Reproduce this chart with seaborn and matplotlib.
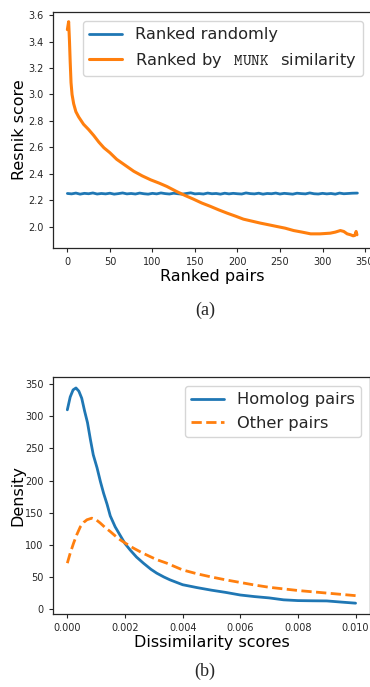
import matplotlib
matplotlib.use("Agg")
import matplotlib.pyplot as plt
import seaborn as sns

# ---- (a) Resnik score of ranked protein pairs ----
random_ranks = [0, 5, 10, 15, 20, 25, 30, 35, 40, 45, 50, 55, 60, 65, 70, 75, 80, 85,
                90, 95, 100, 105, 110, 115, 120, 125, 130, 135, 140, 145, 150, 155, 160,
                165, 170, 175, 180, 185, 190, 195, 200, 205, 210, 215, 220, 225, 230, 235,
                240, 245, 250, 255, 260, 265, 270, 275, 280, 285, 290, 295, 300, 305, 310,
                315, 320, 325, 330, 335, 341]
random_scores = [2.252, 2.249, 2.255, 2.247, 2.253, 2.250, 2.256, 2.248, 2.252, 2.249,
                 2.254, 2.247, 2.251, 2.256, 2.249, 2.252, 2.248, 2.255, 2.250, 2.247,
                 2.253, 2.249, 2.256, 2.251, 2.248, 2.254, 2.250, 2.247, 2.252, 2.257,
                 2.249, 2.251, 2.248, 2.255, 2.250, 2.252, 2.247, 2.254, 2.249, 2.253,
                 2.250, 2.248, 2.256, 2.251, 2.249, 2.254, 2.247, 2.252, 2.250, 2.255,
                 2.248, 2.253, 2.250, 2.247, 2.254, 2.251, 2.249, 2.256, 2.250, 2.248,
                 2.253, 2.249, 2.252, 2.247, 2.255, 2.250, 2.252, 2.254, 2.255]

munk_ranks = [0, 1.5, 2.5, 3.3, 4.3, 5.5, 7.4, 10, 13.3, 19, 25, 31, 37, 43, 50, 58, 68,
              78, 88, 98, 108, 117, 129, 139, 148, 158, 168, 178, 188, 198, 207, 217, 227,
              237, 246, 256, 266, 276, 286, 297, 309, 315, 321, 325, 329, 333, 336, 338,
              339.5, 340.5]
munk_scores = [3.49, 3.55, 3.40, 3.25, 3.09, 3.00, 2.93, 2.87, 2.83, 2.775, 2.735, 2.69,
               2.64, 2.597, 2.56, 2.51, 2.465, 2.42, 2.385, 2.355, 2.33, 2.305, 2.265,
               2.235, 2.21, 2.18, 2.155, 2.128, 2.103, 2.08, 2.058, 2.043, 2.028, 2.015,
               2.003, 1.99, 1.972, 1.96, 1.947, 1.947, 1.952, 1.96, 1.972, 1.965, 1.947,
               1.94, 1.932, 1.935, 1.965, 1.94]

# ---- (b) density of dissimilarity scores ----
homolog_x = [0.0, 0.0001, 0.0002, 0.0003, 0.0004, 0.0005, 0.0006, 0.0007, 0.0008, 0.0009,
             0.00103, 0.00115, 0.00126, 0.00138, 0.00149, 0.00166, 0.00183, 0.002,
             0.00218, 0.0024, 0.00264, 0.0029, 0.0031, 0.00335, 0.00356, 0.004, 0.0045,
             0.005, 0.0055, 0.006, 0.0065, 0.007, 0.0075, 0.008, 0.0085, 0.009, 0.0095,
             0.010]
homolog_y = [310, 330, 341, 344, 339, 328, 308, 290, 264, 240, 220, 198, 180, 163, 145,
             128, 115, 102, 92, 81, 71.5, 62, 56, 50, 45.6, 38, 33.5, 29.5, 26, 22,
             19.5, 17.5, 14.5, 13.3, 13, 12.8, 11, 9.3]

other_x = [0.0, 0.0001, 0.00022, 0.00033, 0.00045, 0.00057, 0.00068, 0.00085, 0.001,
           0.00114, 0.00131, 0.00149, 0.00166, 0.00183, 0.002, 0.00229, 0.0026, 0.00287,
           0.0031, 0.00345, 0.004, 0.0045, 0.005, 0.0055, 0.006, 0.0065, 0.007, 0.0075,
           0.008, 0.0085, 0.009, 0.0095, 0.010]
other_y = [71.5, 87, 103, 116, 128, 135, 139, 141.5, 139, 134, 127, 120.7, 114, 108,
           103, 95, 87.5, 81.8, 77, 71.5, 61, 55, 50, 45.5, 41.5, 37.5, 34, 31.5, 29,
           27, 25, 23, 21]

sns.set_style("ticks")
plt.rcParams.update({
    "font.family": ["DejaVu Sans"],
    "mathtext.fontset": "cm",
    "axes.edgecolor": "#262626",
    "axes.linewidth": 0.9,
    "xtick.major.size": 3.2,
    "ytick.major.size": 3.2,
    "xtick.major.width": 0.8,
    "ytick.major.width": 0.8,
    "xtick.labelsize": 7,
    "ytick.labelsize": 7,
    "xtick.color": "#262626",
    "ytick.color": "#262626",
    "axes.labelsize": 11.5,
    "axes.labelcolor": "black",
    "legend.fontsize": 11.7,
})

blue = "#1f77b4"
orange = "#ff7f0e"

fig = plt.figure(figsize=(3.70, 6.87), dpi=100)

ax1 = fig.add_axes([0.143, 0.639, 0.862, 0.3435])
sns.lineplot(x=random_ranks, y=random_scores, ax=ax1, color=blue, lw=2,
             label="Ranked randomly")
sns.lineplot(x=munk_ranks, y=munk_scores, ax=ax1, color=orange, lw=2.2,
             label=r"Ranked by $\ \,\mathtt{MUNK}\ \,$ similarity")
ax1.set_xlim(-17, 358)
ax1.set_ylim(1.84, 3.623)
ax1.set_xticks([0, 50, 100, 150, 200, 250, 300, 350])
ax1.set_yticks([2.0, 2.2, 2.4, 2.6, 2.8, 3.0, 3.2, 3.4, 3.6])
ax1.set_xlabel("Ranked pairs", labelpad=1)
ax1.set_ylabel("Resnik score", labelpad=0.5)
ax1.legend(loc="upper right", handlelength=2.0, borderaxespad=0.55)

ax2 = fig.add_axes([0.143, 0.1063, 0.857, 0.3449])
sns.lineplot(x=homolog_x, y=homolog_y, ax=ax2, color=blue, lw=2,
             label="Homolog pairs")
sns.lineplot(x=other_x, y=other_y, ax=ax2, color=orange, lw=2, linestyle="--",
             label="Other pairs")
ax2.set_xlim(-0.0005, 0.0105)
ax2.set_ylim(-7.5, 361)
ax2.set_xticks([0.0, 0.002, 0.004, 0.006, 0.008, 0.010])
ax2.set_xticklabels(["0.000", "0.002", "0.004", "0.006", "0.008", "0.010"])
ax2.set_yticks([0, 50, 100, 150, 200, 250, 300, 350])
ax2.set_xlabel("Dissimilarity scores", labelpad=1)
ax2.set_ylabel("Density", labelpad=-0.5)
ax2.legend(loc="upper right", handlelength=2.0, borderaxespad=0.55)

fig.text(0.554, 0.548, "(a)", ha="center", va="center", fontsize=13,
         family=["Liberation Serif", "DejaVu Serif"])
fig.text(0.554, 0.0235, "(b)", ha="center", va="center", fontsize=13,
         family=["Liberation Serif", "DejaVu Serif"])

fig.savefig("out.png", dpi=100)
